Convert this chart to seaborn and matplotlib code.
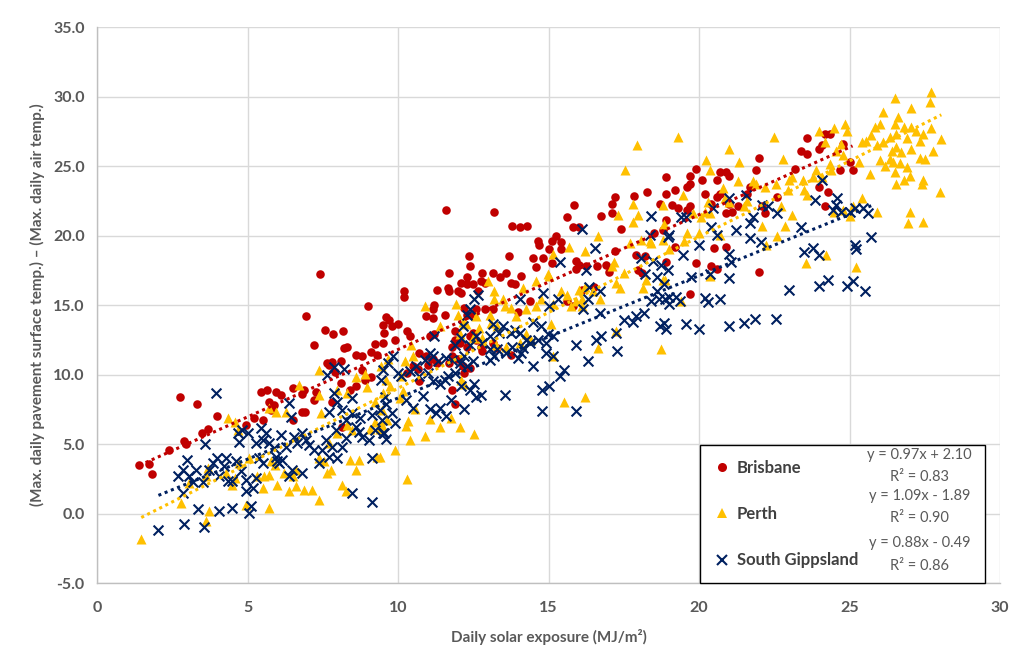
import numpy as np
import pandas as pd
import matplotlib
matplotlib.use("Agg")
import matplotlib.pyplot as plt
from matplotlib.lines import Line2D
import seaborn as sns

# (solar exposure, temp difference)
brisbane = [
    (1.41, 3.5), (1.74, 3.56), (1.82, 2.86), (2.4, 4.6), (2.76, 8.35), (2.88, 5.2), (2.96, 5.0),
    (3.31, 7.9), (3.5, 5.8), (3.7, 6.1), (4.0, 7.0), (4.94, 6.4), (5.2, 6.85), (5.5, 6.7),
    (5.44, 8.76), (5.66, 8.88), (5.7, 8.0), (5.77, 7.45), (5.88, 7.8), (5.94, 8.76), (6.1, 8.5),
    (6.5, 9.0), (6.5, 6.7), (6.8, 7.3), (6.9, 7.3), (6.8, 8.57), (6.88, 8.9), (6.93, 14.23),
    (7.2, 8.16), (7.26, 8.76), (7.2, 12.1), (7.41, 17.23), (7.57, 13.2), (7.65, 10.8), (7.7, 10.7),
    (7.8, 10.9), (7.8, 8.0), (7.83, 12.9), (7.9, 10.2), (8.1, 11.0), (8.1, 9.4), (8.15, 6.25),
    (8.18, 13.1), (8.2, 11.9), (8.3, 12.0), (8.4, 8.9), (8.6, 9.2), (8.6, 11.4), (8.8, 11.3),
    (8.8, 10.3), (8.9, 9.6), (8.99, 14.93), (9.1, 11.6), (9.1, 9.8), (9.25, 12.2), (9.3, 11.4),
    (9.49, 13.56), (9.5, 12.3), (9.55, 12.96), (9.6, 14.16), (9.7, 13.9), (9.8, 13.5), (9.9, 12.5),
    (10.0, 13.6), (10.2, 16.0), (10.2, 15.6), (10.3, 13.1), (10.4, 12.75), (10.3, 10.1), (10.5, 10.6),
    (10.66, 10.4), (10.7, 9.5), (10.7, 11.55), (10.94, 11.3), (10.94, 14.2), (11.0, 10.7), (11.05, 12.75),
    (11.16, 11.1), (11.16, 14.7), (11.16, 14.1), (11.2, 15.0), (11.2, 12.9), (11.3, 16.1), (11.3, 10.85),
    (11.55, 14.3), (11.58, 21.8), (11.65, 16.2), (11.7, 16.0), (11.7, 17.3), (11.7, 10.8), (11.8, 11.3),
    (11.8, 12.0), (11.8, 8.9), (11.9, 7.85), (11.9, 13.1), (11.9, 12.5), (11.98, 16.0), (11.98, 11.1),
    (12.05, 12.3), (12.1, 16.6), (12.1, 15.9), (12.15, 10.6), (12.2, 14.8), (12.2, 10.1), (12.3, 17.0),
    (12.3, 16.5), (12.3, 14.3), (12.3, 12.0), (12.36, 18.5), (12.4, 17.8), (12.4, 12.75), (12.4, 10.5),
    (12.5, 16.5), (12.5, 14.2), (12.5, 13.0), (12.6, 14.7), (12.6, 12.5), (12.65, 16.0), (12.75, 16.7),
    (12.75, 12.0), (12.8, 17.3), (12.8, 11.7), (12.9, 16.6), (12.9, 14.7), (13.15, 17.3), (13.15, 14.7),
    (13.15, 12.3), (13.2, 21.7), (13.3, 11.9), (13.4, 17.0), (13.6, 17.3), (13.7, 18.5), (13.76, 16.6),
    (13.76, 11.4), (13.8, 20.7), (13.9, 16.5), (13.98, 14.5), (14.06, 20.6), (14.1, 17.1), (14.3, 20.7),
    (14.4, 15.3), (14.5, 18.4), (14.6, 17.7), (14.65, 19.6), (14.7, 19.3), (14.8, 18.4), (15.0, 19.0),
    (15.1, 19.6), (15.1, 18.0), (15.25, 20.0), (15.4, 19.5), (15.4, 19.0), (15.6, 21.3), (15.6, 15.3),
    (15.8, 20.6), (15.8, 14.9), (15.86, 22.2), (15.9, 18.2), (15.9, 17.6), (16.0, 20.6), (16.0, 17.9),
    (16.1, 16.1), (16.25, 17.8), (16.5, 16.3), (16.6, 17.8), (16.75, 21.4), (16.9, 17.9), (17.0, 17.4),
    (17.1, 22.3), (17.1, 21.6), (17.2, 22.8), (17.2, 18.9), (17.4, 20.5), (17.84, 22.84), (17.9, 18.6),
    (17.96, 17.5), (18.1, 17.3), (18.2, 18.5), (18.26, 23.1), (18.5, 20.2), (18.7, 22.3), (18.8, 20.4),
    (18.9, 24.2), (18.9, 23.0), (18.9, 21.1), (18.9, 18.1), (19.1, 22.2), (19.2, 23.3), (19.2, 19.2),
    (19.3, 22.0), (19.6, 23.5), (19.6, 21.8), (19.7, 24.3), (19.7, 23.7), (19.7, 22.1), (19.7, 15.8),
    (19.9, 24.8), (19.9, 18.0), (20.1, 24.0), (20.2, 23.0), (20.4, 22.3), (20.4, 17.8), (20.5, 19.1),
    (20.6, 24.0), (20.6, 22.8), (20.6, 17.6), (20.7, 24.6), (20.7, 23.0), (20.9, 24.6), (20.9, 21.6),
    (20.9, 19.2), (21.0, 24.3), (21.0, 22.3), (21.1, 21.7), (21.3, 22.1), (21.6, 23.0), (21.7, 23.5),
    (21.9, 24.7), (22.0, 25.6), (22.0, 17.4), (22.1, 22.1), (22.2, 21.6), (22.6, 22.8), (23.2, 24.8),
    (23.4, 26.1), (23.6, 27.0), (23.6, 25.9), (24.0, 26.2), (24.0, 23.5), (24.1, 26.5), (24.2, 27.3),
    (24.2, 22.1), (24.3, 23.1), (24.35, 27.3), (24.7, 24.7), (24.8, 26.6), (25.0, 25.3), (25.1, 24.7),
]

perth = [
    (1.47, -1.86), (2.79, 0.76), (3.07, 2.2), (3.62, -0.55), (3.62, 2.67), (3.67, 3.27), (3.71, 0.17),
    (4.28, 2.9), (4.34, 6.85), (4.5, 2.08), (4.6, 2.55), (4.6, 6.6), (4.67, 6.0), (4.72, 3.6),
    (4.94, 0.64), (5.05, 4.0), (5.33, 2.67), (5.5, 1.84), (5.55, 2.67), (5.72, 0.37), (5.72, 2.8),
    (5.72, 7.57), (5.77, 3.75), (5.9, 3.5), (5.94, 7.3), (5.99, 2.08), (6.2, 2.9), (6.27, 7.3),
    (6.38, 1.65), (6.5, 2.67), (6.6, 1.96), (6.6, 3.15), (6.7, 9.24), (6.88, 1.72), (7.15, 1.72),
    (7.37, 1.0), (7.37, 4.0), (7.37, 8.5), (7.37, 10.3), (7.43, 7.2), (7.54, 3.75), (7.65, 2.9),
    (7.7, 5.06), (7.76, 3.15), (7.98, 8.88), (7.98, 5.77), (8.15, 2.08), (8.26, 1.6), (8.3, 8.64),
    (8.3, 6.37), (8.42, 3.87), (8.48, 6.0), (8.6, 9.83), (8.6, 3.15), (8.7, 3.87), (8.9, 10.07),
    (8.96, 9.1), (9.08, 6.1), (9.25, 8.04), (9.25, 6.6), (9.3, 4.1), (9.4, 4.1), (9.4, 6.05),
    (9.45, 6.4), (9.45, 10.6), (9.47, 7.45), (9.47, 6.37), (9.5, 8.7), (9.6, 9.6), (9.64, 6.7),
    (9.67, 11.1), (9.72, 9.2), (9.9, 4.57), (10.05, 8.3), (10.1, 9.9), (10.17, 8.8), (10.22, 10.96),
    (10.28, 6.3), (10.31, 2.46), (10.33, 6.65), (10.4, 5.3), (10.44, 12.15), (10.5, 11.3), (10.55, 7.5),
    (10.9, 5.57), (10.9, 14.9), (11.05, 6.77), (11.38, 6.2), (11.38, 13.5), (11.77, 6.9), (11.94, 15.1),
    (12.0, 14.3), (12.05, 6.2), (12.05, 12.9), (12.1, 9.6), (12.16, 13.8), (12.2, 9.3), (12.27, 13.6),
    (12.5, 12.6), (12.54, 5.7), (12.6, 14.2), (12.7, 13.35), (12.8, 12.6), (12.99, 16.7), (13.04, 14.3),
    (13.1, 13.7), (13.2, 16.0), (13.2, 15.4), (13.24, 12.15), (13.3, 13.5), (13.5, 15.4), (13.54, 14.9),
    (13.6, 12.0), (13.76, 14.8), (13.93, 14.2), (14.04, 12.3), (14.15, 16.2), (14.26, 14.7), (14.26, 12.9),
    (14.42, 12.5), (14.6, 16.7), (14.6, 14.9), (14.76, 15.4), (14.98, 17.2), (15.03, 17.1), (15.09, 13.6),
    (15.14, 18.7), (15.14, 15.1), (15.14, 11.3), (15.4, 16.0), (15.53, 8.0), (15.6, 15.7), (15.67, 19.2),
    (15.75, 14.9), (15.9, 15.26), (16.0, 16.1), (16.1, 15.4), (16.1, 14.9), (16.2, 18.9), (16.2, 16.3),
    (16.2, 8.37), (16.47, 16.0), (16.64, 19.98), (16.64, 11.9), (16.7, 15.4), (17.1, 17.8), (17.19, 18.1),
    (17.25, 16.6), (17.25, 13.1), (17.3, 21.5), (17.36, 16.2), (17.5, 17.3), (17.55, 24.7), (17.7, 19.45),
    (17.8, 22.3), (17.8, 21.0), (17.93, 26.5), (17.96, 21.5), (18.07, 19.7), (18.13, 16.2), (18.24, 16.8),
    (18.36, 19.6), (18.4, 19.45), (18.74, 11.8), (18.8, 19.7), (18.8, 16.8), (18.8, 22.2), (18.85, 20.8),
    (18.86, 16.8), (19.0, 19.0), (19.3, 27.07), (19.4, 15.3), (19.47, 22.9), (19.5, 19.6), (19.6, 20.2),
    (19.8, 21.6), (20.0, 20.2), (20.08, 21.36), (20.2, 21.7), (20.24, 25.4), (20.3, 22.4), (20.35, 21.6),
    (20.35, 17.07), (20.36, 24.7), (20.7, 20.05), (20.8, 23.4), (20.85, 22.7), (21.0, 26.2), (21.0, 22.4),
    (21.3, 23.9), (21.33, 25.3), (21.5, 22.1), (21.6, 22.5), (21.8, 23.9), (21.9, 23.7), (22.1, 20.7),
    (22.2, 23.5), (22.24, 19.3), (22.5, 27.07), (22.55, 23.7), (22.6, 20.0), (22.74, 22.1), (22.8, 25.5),
    (22.85, 20.7), (22.96, 23.26), (23.0, 24.0), (23.1, 24.2), (23.1, 21.5), (23.45, 24.0), (23.5, 23.26),
    (23.57, 18.0), (23.6, 22.9), (23.8, 24.2), (23.9, 24.7), (24.0, 27.5), (24.1, 24.2), (24.2, 26.7),
    (24.23, 18.6), (24.34, 25.17), (24.4, 24.7), (24.5, 27.7), (24.5, 21.7), (24.56, 26.1), (24.73, 26.6),
    (24.8, 25.76), (24.8, 21.8), (24.84, 28.0), (24.9, 27.5), (25.0, 21.4), (25.1, 22.1), (25.2, 17.7),
    (25.3, 25.3), (25.4, 26.7), (25.4, 22.7), (25.56, 26.8), (25.67, 24.45), (25.7, 27.2), (25.84, 27.8),
    (25.9, 26.5), (25.9, 21.7), (26.0, 28.0), (26.0, 25.4), (26.1, 28.9), (26.1, 26.7), (26.17, 25.0),
    (26.33, 27.1), (26.33, 25.5), (26.4, 26.1), (26.45, 25.3), (26.5, 28.0), (26.5, 24.6), (26.52, 29.9),
    (26.56, 27.3), (26.56, 26.4), (26.56, 23.7), (26.6, 28.5), (26.67, 25.2), (26.7, 26.0), (26.8, 27.8),
    (26.8, 24.0), (26.9, 27.0), (26.9, 24.9), (26.94, 20.9), (27.0, 24.3), (27.0, 21.7), (27.05, 27.8),
    (27.05, 29.2), (27.05, 26.2), (27.2, 27.5), (27.33, 26.8), (27.33, 25.6), (27.4, 23.7), (27.44, 27.3),
    (27.44, 24.0), (27.44, 21.0), (27.5, 25.5), (27.66, 29.6), (27.7, 30.3), (27.72, 27.7), (27.77, 26.1),
    (28.0, 23.1), (28.05, 26.95),
]

gippsland = [
    (2.04, -1.19), (2.9, -0.79), (3.57, -0.95), (3.95, 8.7), (3.6, 5.0), (2.98, 3.87), (2.68, 2.67),
    (2.85, 3.15), (3.07, 2.67), (3.29, 3.15), (3.18, 2.3), (2.85, 1.48), (3.34, 0.29), (3.51, 2.3),
    (3.73, 3.15), (3.84, 3.63), (4.06, 2.67), (4.0, 3.99), (4.23, 3.39), (4.28, 3.99), (4.34, 2.32),
    (4.06, 0.17), (4.5, 0.41), (4.61, 3.75), (4.78, 3.03), (4.72, 5.18), (4.94, 2.43), (4.94, 1.6),
    (5.17, 1.84), (5.11, 0.53), (5.05, 0.05), (5.0, 5.78), (5.28, 5.06), (5.44, 6.13), (5.5, 5.3),
    (5.6, 5.78), (5.72, 5.06), (5.88, 4.7), (5.94, 4.1), (6.05, 3.63), (6.16, 3.87), (5.99, 3.75),
    (6.27, 4.82), (6.1, 5.66), (6.55, 5.54), (6.66, 5.06), (6.82, 5.78), (6.93, 5.3), (6.38, 7.92),
    (6.43, 6.97), (7.04, 4.94), (7.2, 4.58), (7.48, 4.58), (7.7, 4.1), (7.37, 3.63), (6.49, 3.15),
    (6.38, 2.67), (6.82, 2.9), (5.5, 3.63), (5.28, 2.55), (5.39, 3.99), (4.5, 2.32), (4.67, 5.78),
    (4.83, 6.01), (8.48, 1.48), (9.12, 0.84), (9.14, 3.99), (7.7, 7.33), (7.98, 8.04), (8.15, 7.45),
    (8.26, 6.73), (8.48, 7.2), (8.59, 6.25), (8.7, 5.9), (8.81, 5.54), (9.03, 5.3), (9.25, 6.0),
    (9.47, 6.73), (9.41, 7.45), (9.58, 8.4), (9.53, 5.78), (9.14, 7.1), (8.75, 6.85), (8.26, 5.42),
    (7.93, 6.0), (7.81, 4.82), (8.15, 4.82), (7.6, 5.3), (7.98, 3.99), (7.87, 10.55), (7.65, 9.95),
    (8.2, 10.43), (7.87, 8.64), (8.48, 8.28),
    (16.12, 20.45), (16.53, 19.1), (15.37, 18.06), (16.23, 17.5), (16.36, 16.3), (16.7, 16.0), (16.3, 15.4),
    (16.7, 14.4), (16.14, 14.7), (12.65, 15.7), (12.54, 15.4), (12.4, 14.7), (12.3, 14.3), (14.04, 15.4),
    (14.8, 15.9), (15.3, 15.4), (15.03, 14.9), (14.48, 13.8), (14.76, 13.5), (14.98, 12.9), (15.14, 12.75),
    (14.92, 12.3), (14.65, 12.5), (14.26, 12.5), (14.04, 13.0), (13.15, 13.6), (13.5, 13.5), (13.76, 13.0),
    (13.87, 13.2), (13.37, 13.0), (13.04, 12.75), (12.6, 12.75), (12.8, 12.3), (12.16, 13.5), (11.2, 12.8),
    (12.1, 12.6), (11.9, 12.15), (12.4, 12.15), (13.04, 11.8), (13.3, 11.8), (13.6, 11.55), (13.04, 11.07),
    (13.2, 11.3), (13.8, 12.0), (14.1, 11.55), (13.98, 11.2), (14.4, 12.3), (14.15, 11.9), (14.5, 10.6),
    (14.92, 11.55), (15.14, 11.3), (11.05, 11.55), (11.16, 11.3), (10.9, 11.07), (11.33, 10.96), (11.6, 11.2),
    (11.8, 11.07), (12.05, 10.84), (12.3, 10.6), (12.2, 11.3), (12.5, 10.96), (9.83, 11.3), (9.67, 10.84),
    (9.5, 10.36), (9.45, 9.64), (10.0, 10.1), (10.1, 9.9), (10.4, 10.24), (10.6, 10.6), (10.7, 9.9),
    (11.0, 10.1), (11.16, 9.5), (11.38, 9.3), (11.55, 9.64), (11.66, 9.9), (11.88, 10.1), (12.1, 9.16),
    (12.54, 9.3), (12.4, 8.9), (12.6, 8.4), (12.75, 8.55), (10.28, 8.2), (10.5, 7.6), (10.83, 8.45),
    (11.05, 7.5), (11.27, 7.25), (11.77, 8.2), (12.2, 7.5), (11.6, 7.0), (11.4, 7.6), (9.6, 7.85),
    (9.8, 7.25), (9.9, 6.5), (9.5, 5.8), (9.6, 5.33), (13.57, 8.5), (14.79, 8.9), (15.03, 9.16),
    (15.37, 9.9), (15.53, 10.36), (14.79, 7.37), (15.92, 7.37), (15.92, 12.15), (16.3, 10.96), (16.58, 12.5),
    (16.75, 12.75), (17.25, 13.0), (17.28, 11.7), (17.5, 13.9), (17.8, 13.8), (17.9, 14.2), (18.18, 14.4),
    (18.4, 15.26), (18.68, 15.4), (18.85, 13.7), (18.7, 13.5), (19.0, 15.1), (19.0, 15.6), (18.85, 16.5),
    (18.6, 17.0), (18.74, 17.9), (18.2, 17.2), (18.07, 18.4), (18.46, 18.2), (18.4, 21.4), (18.96, 19.9),
    (24.1, 24.0), (23.84, 22.55), (24.6, 22.7), (24.56, 22.2), (24.45, 21.8), (24.73, 21.7), (25.0, 21.7),
    (25.45, 22.0), (25.6, 21.6), (25.17, 21.95), (25.73, 19.9), (25.17, 19.3), (25.23, 19.0), (25.5, 16.0),
    (25.1, 16.7), (24.9, 16.4), (24.3, 16.8), (24.0, 16.4), (23.0, 16.1), (23.5, 18.85), (23.8, 19.1),
    (24.0, 18.6), (23.4, 20.6), (22.6, 21.6), (22.3, 22.1), (22.1, 22.2), (21.8, 21.36), (21.7, 20.9),
    (21.57, 22.9), (21.24, 20.4), (21.0, 18.7), (21.07, 18.1), (21.7, 19.8), (22.07, 19.5), (21.0, 22.7),
    (20.47, 22.0), (20.4, 20.6), (20.6, 20.05), (19.58, 21.36), (19.4, 21.36), (19.0, 20.05), (18.97, 17.55),
    (18.36, 20.05), (20.0, 19.3), (19.47, 18.6), (19.75, 17.0), (20.35, 17.2), (21.0, 16.95), (19.25, 15.6),
    (18.6, 16.0), (18.86, 15.4), (19.36, 15.3), (20.2, 15.5), (20.3, 15.2), (20.7, 15.4), (18.9, 13.26),
    (19.58, 13.6), (20.0, 13.26), (21.0, 13.5), (21.5, 13.7), (21.85, 14.0), (22.55, 14.0),
]

sites = ["Brisbane", "Perth", "South Gippsland"]
colors = ["#C00000", "#FFC000", "#002060"]
markers = ["o", "^", "x"]
# trendline coefficients as printed on the chart
slopes = [0.97, 1.09, 0.88]
intercepts = [2.10, -1.89, -0.49]
r2 = [0.83, 0.90, 0.86]

frames = []
for name, pts in zip(sites, [brisbane, perth, gippsland]):
    d = pd.DataFrame(pts, columns=["solar", "dtemp"])
    d["site"] = name
    frames.append(d)
df = pd.concat(frames, ignore_index=True)

sns.set_style("whitegrid")
plt.rcParams["font.family"] = ["Lato", "DejaVu Sans"]

fig = plt.figure(figsize=(10.14, 6.59), dpi=100)
ax = fig.add_axes([0.0957, 0.1153, 0.8905, 0.8437])

sizes = [38, 52, 50]
for name, col, mk, sz in zip(sites, colors, markers, sizes):
    sub = df[df.site == name]
    if mk == "x":
        sns.scatterplot(data=sub, x="solar", y="dtemp", marker=mk, color=col, s=sz,
                        linewidth=1.5, ax=ax, legend=False, zorder=3)
    else:
        sns.scatterplot(data=sub, x="solar", y="dtemp", marker=mk, color=col, s=sz,
                        linewidth=0, ax=ax, legend=False, zorder=3)

# dotted linear trendlines over each series' x range
for name, col, m, b in zip(sites, colors, slopes, intercepts):
    sub = df[df.site == name]
    xs = np.array([sub.solar.min(), sub.solar.max()])
    ax.plot(xs, m * xs + b, linestyle=(0, (1, 1.2)), linewidth=2.2, color=col, zorder=4)

ax.set_xlim(0, 30)
ax.set_ylim(-5, 35)
ax.set_xticks(np.arange(0, 31, 5))
ax.set_yticks(np.arange(-5, 36, 5))
ax.set_yticklabels([f"{v:.1f}" for v in np.arange(-5, 36, 5)])
ax.grid(True, color="#D9D9D9", linewidth=1)
for s in ["top", "right"]:
    ax.spines[s].set_visible(False)
for s in ["left", "bottom"]:
    ax.spines[s].set_color("#BFBFBF")
    ax.spines[s].set_linewidth(1)

ax.tick_params(axis="both", length=0, labelsize=11.5, labelcolor="#595959")
ax.tick_params(axis="x", pad=13)
ax.tick_params(axis="y", pad=9)
for lab in ax.get_xticklabels() + ax.get_yticklabels():
    lab.set_fontweight("bold")

ax.set_xlabel("Daily solar exposure (MJ/m²)", fontsize=11, fontweight="bold", color="#595959", labelpad=10)
ax.set_ylabel("(Max. daily pavement surface temp.) – (Max. daily air temp.)", fontsize=11,
              fontweight="bold", color="#595959", labelpad=6)

handles = [
    Line2D([], [], linestyle="none", marker="o", color=colors[0], markersize=6.5, markeredgewidth=0),
    Line2D([], [], linestyle="none", marker="^", color=colors[1], markersize=7.5, markeredgewidth=0),
    Line2D([], [], linestyle="none", marker="x", color=colors[2], markersize=7.5, markeredgewidth=1.5),
]
leg = ax.legend(handles, sites, loc="lower left", bbox_to_anchor=(0.668, 0.0, 0.315, 0.252),
                mode="expand", borderaxespad=0, frameon=True, fancybox=False, framealpha=1,
                edgecolor="black", prop={"weight": "bold", "size": 12}, labelspacing=1.82,
                borderpad=0.88, handlelength=0.8, handletextpad=0.5)
leg.get_frame().set_linewidth(1.0)
for t in leg.get_texts():
    t.set_color("#404040")

eq_y = [(0.230, 0.191), (0.156, 0.117), (0.072, 0.031)]
for m, b, r, (y1, y2) in zip(slopes, intercepts, r2, eq_y):
    sign = "+" if b >= 0 else "-"
    ax.text(0.911, y1, f"y = {m:.2f}x {sign} {abs(b):.2f}", transform=ax.transAxes, ha="center",
            va="center", fontsize=10.5, color="#595959", zorder=6)
    ax.text(0.911, y2, f"R² = {r:.2f}", transform=ax.transAxes, ha="center", va="center",
            fontsize=10.5, color="#595959", zorder=6)

fig.savefig("out.png", dpi=100, facecolor="white")
